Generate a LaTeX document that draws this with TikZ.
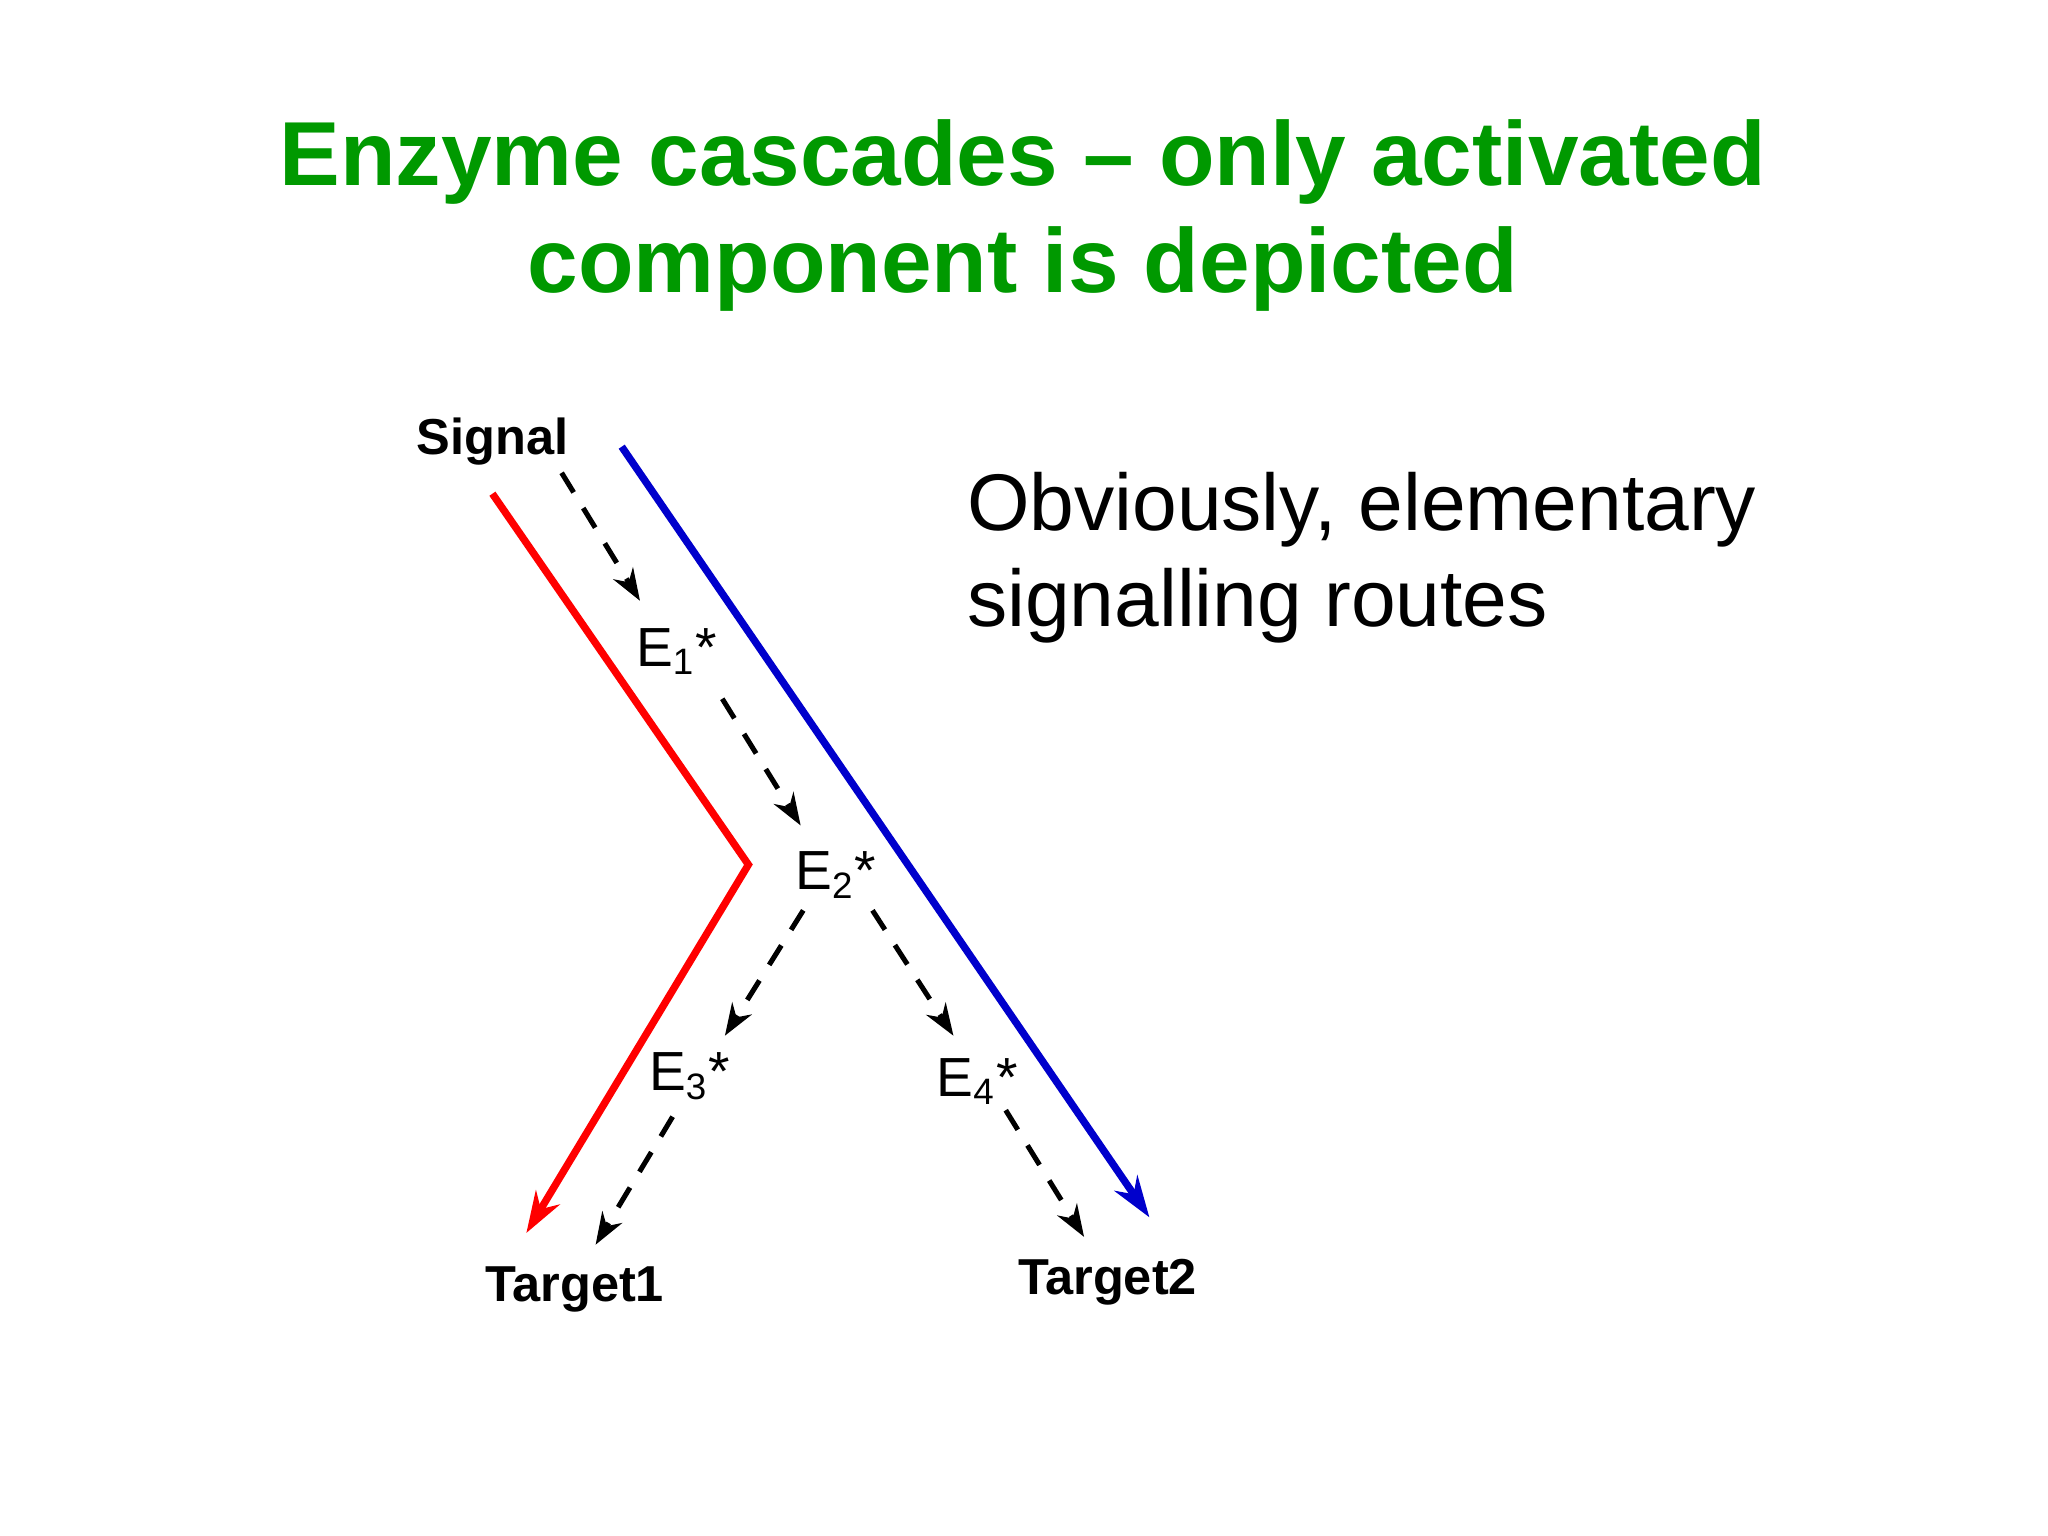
\documentclass[tikz,border=0pt]{standalone}
\usepackage{fontspec}
\setmainfont{Liberation Sans}
\usetikzlibrary{arrows.meta}
\begin{document}
\begin{tikzpicture}[x=0.01cm,y=-0.01cm,
  dasharrow/.style={draw=black,line width=1.1pt,dash pattern=on 5pt off 4pt,-{Stealth[length=7pt,width=5pt]}},
  sigpath/.style={line width=1.6pt,-{Stealth[length=9pt,width=6pt]}},
  lbl/.style={font=\fontsize{11pt}{13pt}\bfseries},
  enz/.style={font=\fontsize{12pt}{14pt}\selectfont}]
\path[fill=white] (0,0) rectangle (1568,1176);
\node[align=center,text=green!60!black,font=\fontsize{19.8pt}{23.5pt}\bfseries] (title) at (783,165) {Enzyme cascades -- only activated\\component is depicted};
\node[align=left,anchor=west,font=\fontsize{17.5pt}{20.8pt}\selectfont] (obv) at (728,427) {Obviously, elementary\\signalling routes};
\node[lbl] (sig) at (377,338) {Signal};
\node[lbl] (t1) at (440,987) {Target1};
\node[lbl] (t2) at (848,982) {Target2};
\node[enz] (e1) at (518,499) {E\textsubscript{1}*};
\node[enz] (e2) at (640,670) {E\textsubscript{2}*};
\node[enz] (e3) at (528,824) {E\textsubscript{3}*};
\node[enz] (e4) at (748,828) {E\textsubscript{4}*};
\coordinate (r0) at (377,378); \coordinate (r1) at (573,662); \coordinate (r2) at (403,944);
\coordinate (b0) at (476,342); \coordinate (b1) at (880,932);
\draw[sigpath,draw=red] (r0) -- (r1) -- (r2);
\draw[sigpath,draw=blue!80!black] (b0) -- (b1);
\coordinate (d1a) at (430,362); \coordinate (d1b) at (490,460);
\coordinate (d2a) at (553,535); \coordinate (d2b) at (613,632);
\coordinate (d3a) at (615,697); \coordinate (d3b) at (555,793);
\coordinate (d4a) at (668,697); \coordinate (d4b) at (730,793);
\coordinate (d5a) at (515,855); \coordinate (d5b) at (456,953);
\coordinate (d6a) at (770,850); \coordinate (d6b) at (830,947);
\foreach \i in {1,...,6} \draw[dasharrow] (d\i a) -- (d\i b);
\end{tikzpicture}
\end{document}
